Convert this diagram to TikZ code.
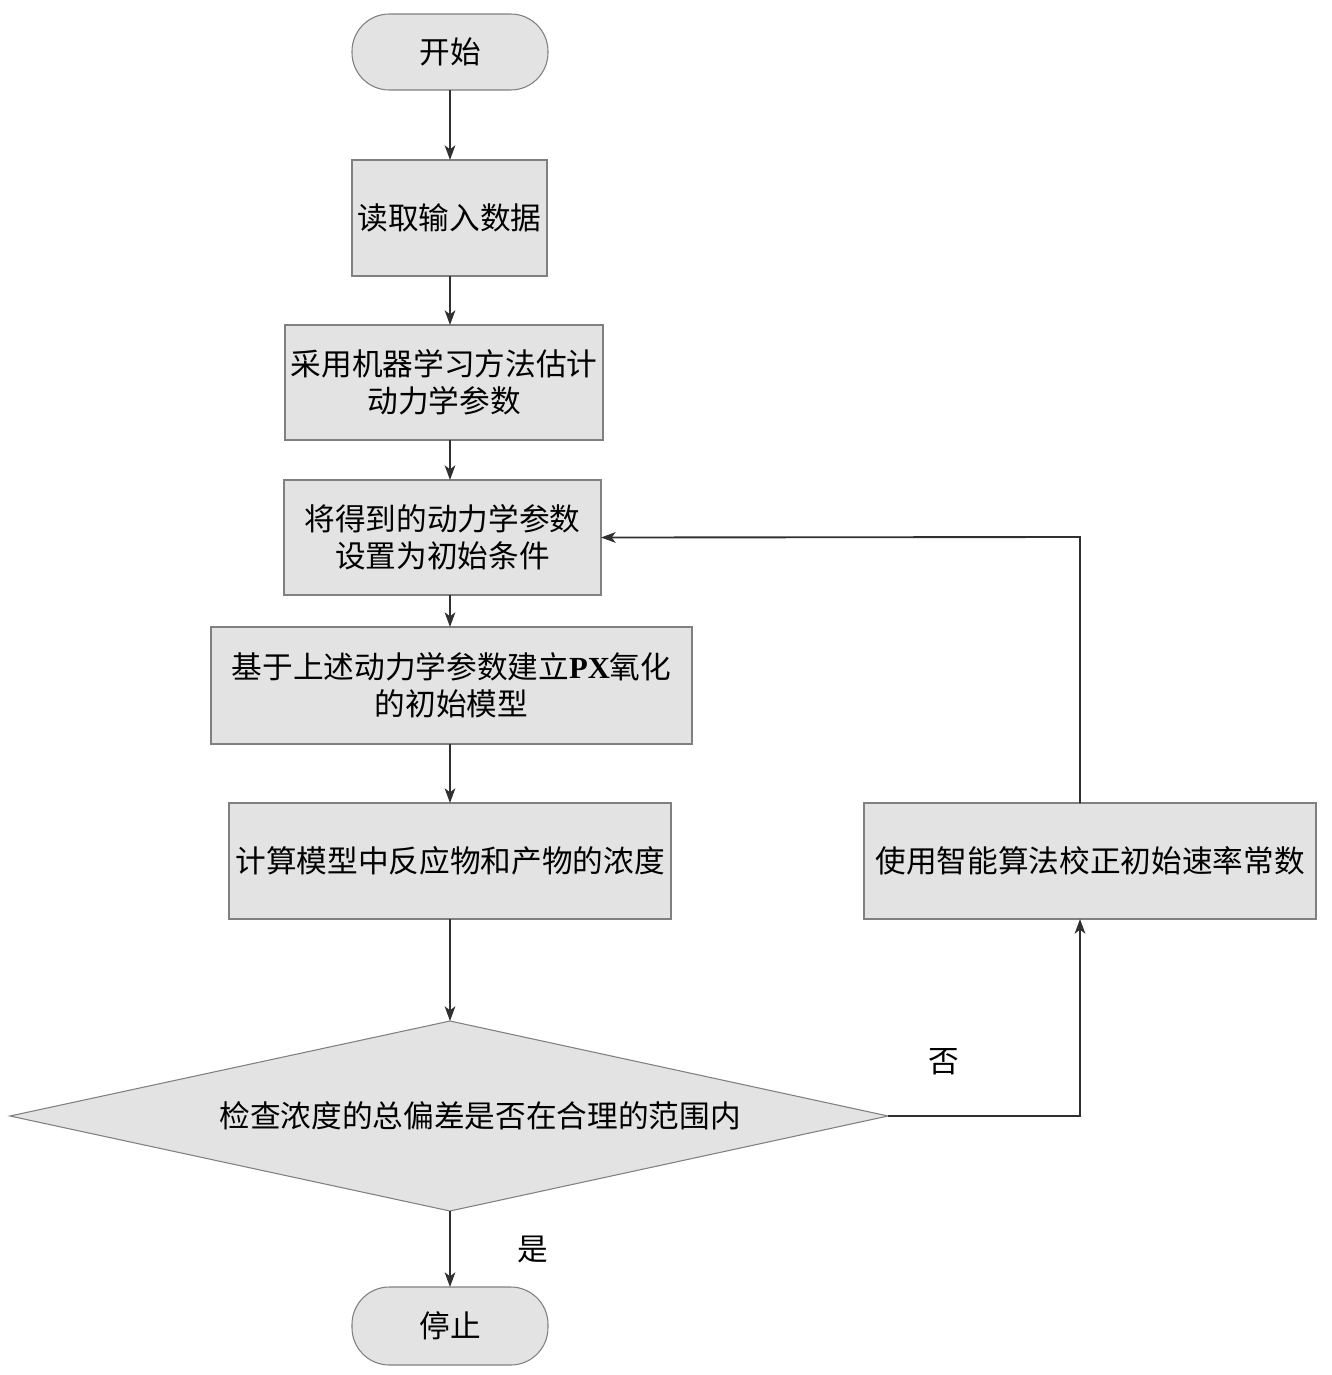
\documentclass[tikz,border=0pt]{standalone}
\usepackage{fontspec}
\setmainfont{Liberation Serif}
\newfontfamily\cjk{Noto Sans CJK SC}
\usetikzlibrary{arrows.meta}
\definecolor{boxfill}{HTML}{E3E3E3}
\definecolor{boxline}{HTML}{808080}
\definecolor{linec}{HTML}{303030}
\tikzset{
  x=0.75pt, y=-0.75pt,
  basebox/.style={draw=boxline, line width=0.8pt, fill=boxfill, inner sep=0pt, outer sep=0pt,
    align=center, font=\fontsize{23}{28}\selectfont\cjk},
  procbox/.style={basebox, rectangle},
  termbox/.style={basebox, rounded corners=28pt},
  lbl/.style={inner sep=0pt, font=\fontsize{23}{28}\selectfont\cjk},
  flow/.style={draw=linec, line width=1.4pt, -{Stealth[length=11pt, width=8pt, inset=3pt]}},
  plain/.style={draw=linec, line width=1.4pt}
}
\begin{document}
\begin{tikzpicture}
\useasboundingbox (0,0) rectangle (1332,1375);
\node[termbox, minimum width=147pt, minimum height=57pt] (start) at (450,52) {开始};
\node[procbox, minimum width=146.25pt, minimum height=87pt] (b1) at (449.5,218) {读取输入数据};
\node[procbox, minimum width=238.5pt, minimum height=86.25pt] (b2) at (444,382.5) {采用机器学习方法估计\\动力学参数};
\node[procbox, minimum width=237.75pt, minimum height=86.25pt] (b3) at (442.5,537.5) {将得到的动力学参数\\设置为初始条件};
\node[procbox, minimum width=360.75pt, minimum height=87.75pt] (b4) at (451.5,685.5) {基于上述动力学参数建立{\rmfamily\bfseries PX}氧化\\的初始模型};
\node[procbox, minimum width=331.5pt, minimum height=87pt] (b5) at (450,861) {计算模型中反应物和产物的浓度};
\node[procbox, minimum width=339pt, minimum height=87pt] (b6) at (1090,861) {使用智能算法校正初始速率常数};
\node[termbox, minimum width=147pt, minimum height=58.5pt] (stop) at (450,1326) {停止};
% decision diamond
\coordinate (dT) at (450,1021);
\coordinate (dL) at (10,1116);
\coordinate (dR) at (888,1116);
\coordinate (dB) at (450,1211);
\filldraw[draw=boxline, line width=0.8pt, fill=boxfill] (dT) -- (dR) -- (dB) -- (dL) -- cycle;
\node[lbl] (dtext) at (480,1116) {检查浓度的总偏差是否在合理的范围内};
\node[lbl] (no) at (944,1062) {否};
\node[lbl] (yes) at (533,1249) {是};
% column coordinates
\coordinate (cx) at (450,0);
\coordinate (rx) at (1080,0);
\coordinate (loopTop) at (1080,537);
\coordinate (loopCorner) at (1080,1116);
% connectors
\draw[flow] (start.south) -- (b1.north -| cx);
\draw[flow] (b1.south -| cx) -- (b2.north -| cx);
\draw[flow] (b2.south -| cx) -- (b3.north -| cx);
\draw[flow] (b3.south -| cx) -- (b4.north -| cx);
\draw[flow] (b4.south -| cx) -- (b5.north -| cx);
\draw[flow] (b5.south -| cx) -- (dT);
\draw[flow] (dB) -- (stop.north);
\draw[flow] (dR) -- (loopCorner) -- (b6.south -| rx);
\draw[flow] (b6.north -| rx) -- (loopTop) -- (b3.east);
\end{tikzpicture}
\end{document}
